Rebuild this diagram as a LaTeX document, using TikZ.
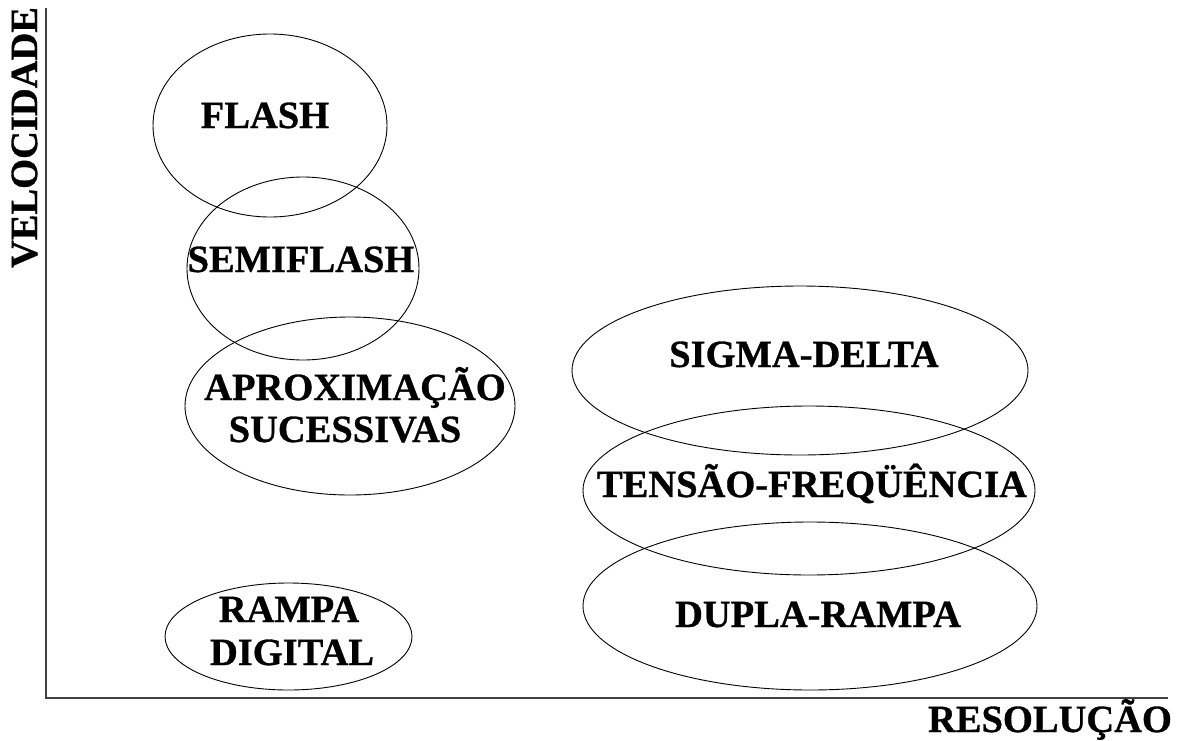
\documentclass[tikz,border=0pt]{standalone}
\usepackage{fontspec}
\setmainfont{Liberation Serif}[BoldFont={Liberation Serif Bold}, BoldFeatures={FakeBold=0.8}]
\usetikzlibrary{shapes.geometric}
\tikzset{
  oval/.style={draw=black, line width=0.9pt, ellipse, inner sep=0pt},
  lbl/.style={font=\fontsize{38.5}{46}\selectfont\bfseries, inner sep=0pt, anchor=base, text=black},
  axis/.style={draw=black!75, line width=2pt}
}
\begin{document}
\begin{tikzpicture}[x=1pt,y=-1pt]
\useasboundingbox (0,0) rectangle (1179,740);
% axes
\coordinate (top) at (46,8);
\coordinate (origin) at (46,698);
\coordinate (right) at (1168,698);
\draw[axis] (top) -- (origin) -- (right);
\node[lbl, rotate=90] (vel) at (37,137.5) {VELOCIDADE};
\node[lbl] (res) at (1050,732) {RESOLUÇÃO};
% ellipses
\node[oval, minimum width=234pt, minimum height=183pt] (flash) at (270,125.5) {};
\node[oval, minimum width=232pt, minimum height=183pt] (semi) at (303,268.5) {};
\node[oval, minimum width=330pt, minimum height=178pt] (aprox) at (350,406) {};
\node[oval, minimum width=247pt, minimum height=107pt] (rampa) at (288.5,636.5) {};
\node[oval, minimum width=456pt, minimum height=169pt] (sigma) at (800,370.5) {};
\node[oval, minimum width=452pt, minimum height=169pt] (tensao) at (809,490.5) {};
\node[oval, minimum width=454pt, minimum height=168pt] (dupla) at (810,606) {};
% labels
\node[lbl] (flashT) at (265,128) {FLASH};
\node[lbl] (semiT) at (301,272) {SEMIFLASH};
\node[lbl] (aproxT1) at (355,400) {APROXIMAÇÃO};
\node[lbl] (aproxT2) at (345,442) {SUCESSIVAS};
\node[lbl] (rampaT1) at (289,622) {RAMPA};
\node[lbl] (rampaT2) at (292,665) {DIGITAL};
\node[lbl] (sigmaT) at (804,367) {SIGMA-DELTA};
\node[lbl] (tensaoT) at (812,497) {TENSÃO-FREQÜÊNCIA};
\node[lbl] (duplaT) at (818,627) {DUPLA-RAMPA};
\end{tikzpicture}
\end{document}
